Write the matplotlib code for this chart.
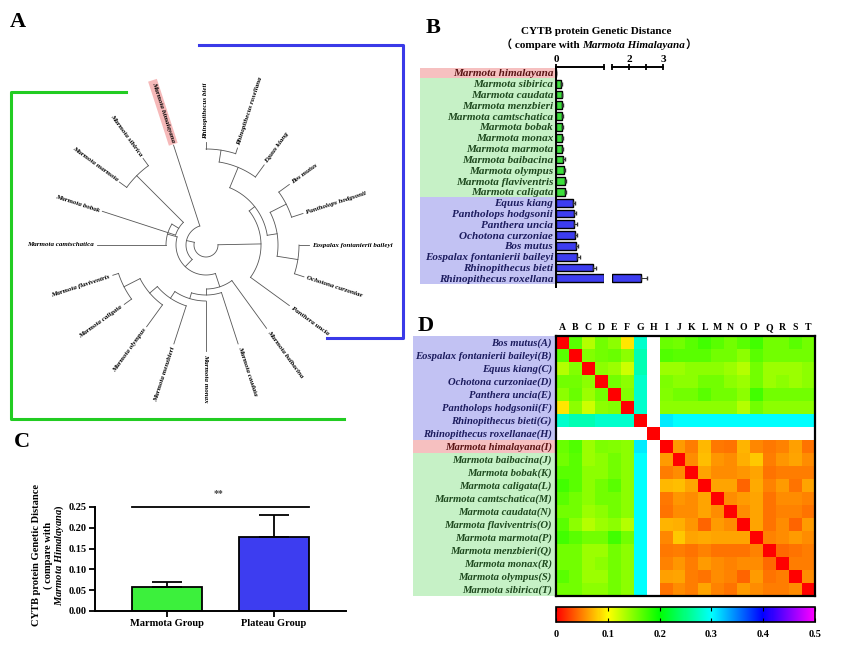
import numpy as np
import matplotlib
matplotlib.use('Agg')
import matplotlib.pyplot as plt
from matplotlib.colors import LinearSegmentedColormap
from matplotlib.patches import Rectangle

plt.rcParams['font.family'] = ['Liberation Serif', 'DejaVu Serif']
plt.rcParams['font.weight'] = 'bold'
plt.rcParams['mathtext.fontset'] = 'custom'
plt.rcParams['mathtext.it'] = 'Liberation Serif:italic:bold'
plt.rcParams['mathtext.rm'] = 'Liberation Serif:bold'

# ---------------- data ----------------
# A: tree, leaves in clockwise order starting at 12 o'clock
tree_leaves = ['Rhinopithecus bieti', 'Rhinopithecus roxellana', 'Equus kiang', 'Bos mutus',
               'Pantholops hodgsonii', 'Eospalax fontanierii baileyi', 'Ochotona curzoniae',
               'Panthera uncia', 'Marmota baibacina', 'Marmota caudata', 'Marmota monax',
               'Marmota menzbieri', 'Marmota olympus', 'Marmota caligata', 'Marmota flaviventris',
               'Marmota camtschatica', 'Marmota bobak', 'Marmota marmota', 'Marmota sibirica',
               'Marmota himalayana']
tree_tip = [103, 102, 99, 103, 102, 103, 103, 103, 103, 104, 106, 104, 101, 101, 98, 109, 109, 107, 107, 105]
clade_names = ['rr', 'rre', 'bp', 'eo', 'bpeo', 'pl1', 'plateau', 'sm', 'smb', 'fc', 'fco',
               'fcom', 'mon', 'cau', 'bai', 'eur', 'mar', 'marall', 'root']
clade_children = [
    ['Rhinopithecus bieti', 'Rhinopithecus roxellana'],
    ['rr', 'Equus kiang'],
    ['Bos mutus', 'Pantholops hodgsonii'],
    ['Eospalax fontanierii baileyi', 'Ochotona curzoniae'],
    ['bp', 'eo'],
    ['rre', 'bpeo'],
    ['pl1', 'Panthera uncia'],
    ['Marmota marmota', 'Marmota sibirica'],
    ['Marmota bobak', 'sm'],
    ['Marmota caligata', 'Marmota flaviventris'],
    ['Marmota olympus', 'fc'],
    ['Marmota menzbieri', 'fco'],
    ['Marmota monax', 'fcom'],
    ['Marmota caudata', 'mon'],
    ['Marmota baibacina', 'cau'],
    ['Marmota camtschatica', 'smb'],
    ['bai', 'eur'],
    ['mar', 'Marmota himalayana'],
    ['plateau', 'marall'],
]
clade_radius = [96, 84, 90, 93, 72, 62, 55, 98, 32, 92, 74, 64, 56, 50, 44, 40, 30, 20, 12]

# B: distance to M. himalayana
b_species = ['Marmota himalayana', 'Marmota sibirica', 'Marmota caudata', 'Marmota menzbieri',
             'Marmota camtschatica', 'Marmota bobak', 'Marmota monax', 'Marmota marmota',
             'Marmota baibacina', 'Marmota olympus', 'Marmota flaviventris', 'Marmota caligata',
             'Equus kiang', 'Pantholops hodgsonii', 'Panthera uncia', 'Ochotona curzoniae',
             'Bos mutus', 'Eospalax fontanierii baileyi', 'Rhinopithecus bieti',
             'Rhinopithecus roxellana']
b_dist = [0, 0.045, 0.046, 0.047, 0.048, 0.050, 0.051, 0.053, 0.062, 0.064, 0.072, 0.074,
          0.140, 0.147, 0.153, 0.158, 0.167, 0.178, 0.308, 2.35]
b_err = [0, 0.008, 0.008, 0.008, 0.008, 0.008, 0.008, 0.009, 0.010, 0.010, 0.010, 0.010,
         0.020, 0.020, 0.020, 0.020, 0.020, 0.020, 0.025, 0.17]
b_group = ['self'] + ['marmota'] * 11 + ['plateau'] * 8

# C: group means
c_groups = ['Marmota Group', 'Plateau Group']
c_means = [0.058, 0.178]
c_sd = [0.011, 0.052]

# D: pairwise distance matrix (lower triangle, rows B..T)
d_letters = list('ABCDEFGHIJKLMNOPQRST')
d_species = ['Bos mutus', 'Eospalax fontanierii baileyi', 'Equus kiang', 'Ochotona curzoniae',
             'Panthera uncia', 'Pantholops hodgsonii', 'Rhinopithecus bieti',
             'Rhinopithecus roxellanae', 'Marmota himalayana', 'Marmota baibacina',
             'Marmota bobak', 'Marmota caligata', 'Marmota camtschatica', 'Marmota caudata',
             'Marmota flaviventris', 'Marmota marmota', 'Marmota menzbieri', 'Marmota monax',
             'Marmota olympus', 'Marmota sibirica']
d_group = ['plateau'] * 8 + ['self'] + ['marmota'] * 11
d_lower = [
    [0.165],
    [0.13, 0.15],
    [0.155, 0.155, 0.145],
    [0.145, 0.16, 0.14, 0.155],
    [0.09, 0.145, 0.12, 0.145, 0.15],
    [0.28, 0.27, 0.27, 0.28, 0.28, 0.28],
    [2.33, 2.36, 2.31, 2.34, 2.32, 2.30, 2.29],
    [0.160, 0.168, 0.140, 0.152, 0.150, 0.145, 0.308, 2.35],
    [0.155, 0.165, 0.14, 0.145, 0.155, 0.145, 0.30, 2.35, 0.062],
    [0.165, 0.165, 0.145, 0.145, 0.155, 0.145, 0.30, 2.34, 0.050, 0.055],
    [0.175, 0.165, 0.145, 0.155, 0.165, 0.145, 0.30, 2.36, 0.074, 0.075, 0.065],
    [0.165, 0.155, 0.145, 0.155, 0.155, 0.145, 0.30, 2.35, 0.048, 0.060, 0.055, 0.065],
    [0.155, 0.155, 0.14, 0.145, 0.155, 0.145, 0.30, 2.35, 0.046, 0.055, 0.055, 0.065, 0.055],
    [0.165, 0.145, 0.13, 0.14, 0.145, 0.13, 0.30, 2.36, 0.072, 0.070, 0.060, 0.040, 0.062, 0.055],
    [0.175, 0.165, 0.155, 0.155, 0.175, 0.155, 0.30, 2.34, 0.053, 0.080, 0.065, 0.068, 0.065, 0.065, 0.065],
    [0.155, 0.155, 0.14, 0.14, 0.155, 0.145, 0.30, 2.35, 0.047, 0.050, 0.045, 0.052, 0.045, 0.045, 0.045, 0.052],
    [0.155, 0.155, 0.14, 0.145, 0.155, 0.145, 0.30, 2.35, 0.051, 0.060, 0.050, 0.062, 0.055, 0.052, 0.055, 0.055, 0.042],
    [0.165, 0.155, 0.14, 0.14, 0.155, 0.145, 0.30, 2.36, 0.064, 0.065, 0.050, 0.045, 0.055, 0.052, 0.040, 0.062, 0.045, 0.050],
    [0.155, 0.155, 0.145, 0.145, 0.155, 0.145, 0.30, 2.35, 0.045, 0.055, 0.050, 0.065, 0.052, 0.045, 0.062, 0.055, 0.050, 0.050, 0.055],
]

# ---------------- style ----------------
box_color = {'self': '#f6c0c0', 'marmota': '#c6f1c6', 'plateau': '#c2c2f3'}
text_color = {'self': '#5a1414', 'marmota': '#1f4a1f', 'plateau': '#1c1c5e'}
bar_color = {'self': '#3ce03c', 'marmota': '#3ce03c', 'plateau': '#3d3df0'}

W, H = 850, 657
fig = plt.figure(figsize=(W / 100, H / 100), dpi=100)


def px_axes(x0, y0, x1, y1):
    return fig.add_axes([x0 / W, 1 - y1 / H, (x1 - x0) / W, (y1 - y0) / H])


bg = px_axes(0, 0, W, H)
bg.set_xlim(0, W)
bg.set_ylim(H, 0)
bg.axis('off')
bg.set_zorder(-1)

# ---------------- A: circular tree ----------------
cx, cy = 206, 245
step = 360 / len(tree_leaves)
angle, radius = {}, {}
for k, name in enumerate(tree_leaves):
    angle[name] = 90 - step * k
    radius[name] = tree_tip[k]

tree_kw = dict(color='#555555', lw=0.6)
for name, kids, r in zip(clade_names, clade_children, clade_radius):
    angs = [angle[c] for c in kids]
    angle[name] = np.mean(angs)
    radius[name] = r
    t = np.radians(np.linspace(min(angs), max(angs), 60))
    bg.plot(cx + r * np.cos(t), cy - r * np.sin(t), **tree_kw)
    for c in kids:
        a = np.radians(angle[c])
        bg.plot([cx + r * np.cos(a), cx + radius[c] * np.cos(a)],
                [cy - r * np.sin(a), cy - radius[c] * np.sin(a)], **tree_kw)

for name in tree_leaves:
    a = (angle[name] + 180) % 360 - 180
    rr = radius[name] + 3
    x = cx + rr * np.cos(np.radians(a))
    y = cy - rr * np.sin(np.radians(a))
    if -90 <= a <= 90:
        rot, ha = a, 'left'
    else:
        rot, ha = (a - 180 if a > 0 else a + 180), 'right'
    kw = {}
    if name == 'Marmota himalayana':
        kw['bbox'] = dict(facecolor='#f6b9b9', edgecolor='none', pad=1.5)
    bg.text(x, y, name, rotation=rot, ha=ha, va='center', rotation_mode='anchor',
            fontsize=5, fontstyle='italic', **kw)

# group brackets
bg.plot([126, 11, 11, 344], [92, 92, 419, 419], color='#22cc22', lw=2.2)
bg.plot([199, 403, 403, 327], [45, 45, 338, 338], color='#3a3ae8', lw=2.2)

# ---------------- B: broken bar chart ----------------
rows = np.arange(len(b_species))
vals = np.array(b_dist)
errs = np.array(b_err)
cols = [bar_color[g] for g in b_group]
axb1 = px_axes(556, 67, 604, 287)
axb2 = px_axes(612, 67, 663, 287)
for ax in (axb1, axb2):
    ax.set_ylim(19.8, -0.55)
    ax.spines[['right', 'bottom']].set_visible(False)
    for s in ax.spines.values():
        s.set_linewidth(1.4)
    ax.xaxis.tick_top()
    ax.tick_params(axis='x', direction='inout', length=5, width=1.3, labelsize=8, pad=0)
axb2.spines['left'].set_visible(False)
axb2.set_yticks([])

axb1.barh(rows, np.minimum(vals, 0.4), height=0.72, color=cols, edgecolor='black', lw=1.0)
near = vals <= 0.4
axb1.errorbar(vals[near], rows[near], xerr=[np.zeros(near.sum()), errs[near]], fmt='none',
              ecolor='#333333', elinewidth=0.7, capsize=1.5)
far = vals > 1.5
axb2.barh(rows[far], vals[far] - 1.5, left=1.5, height=0.72,
          color=[c for c, f in zip(cols, far) if f], edgecolor='black', lw=1.0)
axb2.errorbar(vals[far], rows[far], xerr=[np.zeros(far.sum()), errs[far]], fmt='none',
              ecolor='#333333', elinewidth=0.7, capsize=1.5)
axb1.set_xlim(0, 0.4)
axb2.set_xlim(1.5, 3)
axb1.set_xticks([0, 0.4])
axb1.set_xticklabels(['0', ''])
axb2.set_xticks([1.5, 2, 2.5, 3])
axb2.set_xticklabels(['', '2', '', '3'])

axb1.set_yticks(rows)
axb1.set_yticklabels(b_species, fontstyle='italic', fontsize=8)
for lab, g in zip(axb1.get_yticklabels(), b_group):
    lab.set_color(text_color[g])
axb1.tick_params(axis='y', length=0, pad=2)

lab_w = (556 - 420) / (604 - 556) * 0.4
for g in ['self', 'marmota', 'plateau']:
    idx = [i for i, gg in enumerate(b_group) if gg == g]
    axb1.add_patch(Rectangle((-lab_w, min(idx) - 0.5), lab_w, len(idx), facecolor=box_color[g],
                             edgecolor='none', clip_on=False, zorder=0))

fig.text(596 / W, 1 - 31 / H, 'CYTB protein Genetic Distance', ha='center', va='center', fontsize=8)
t1 = bg.text(501, 50, '（ compare with ', fontsize=8, va='bottom',
             family=['Liberation Serif', 'Noto Sans CJK SC'])
t2 = bg.annotate('Marmota Himalayana', xy=(1, 0), xycoords=t1, va='bottom', fontsize=8,
                 fontstyle='italic')
bg.annotate('）', xy=(1, 0), xycoords=t2, va='bottom', fontsize=8,
            family=['Liberation Serif', 'Noto Sans CJK SC'])

# ---------------- C: group bars ----------------
axc = px_axes(95, 507, 346, 611)
axc.bar([0, 1], c_means, width=0.66, color=['#3cf03c', '#3d3df0'], edgecolor='black', lw=1.3)
axc.errorbar([0, 1], c_means, yerr=[[0, 0], c_sd], fmt='none', ecolor='black', elinewidth=1.3,
             capsize=11, capthick=1.3)
axc.set_xlim(-0.68, 1.68)
axc.set_ylim(0, 0.25)
axc.set_yticks(np.arange(0, 0.251, 0.05))
axc.set_yticklabels(['%.2f' % v for v in np.arange(0, 0.251, 0.05)])
axc.set_xticks([0, 1])
axc.set_xticklabels(c_groups)
axc.spines[['top', 'right']].set_visible(False)
for s in axc.spines.values():
    s.set_linewidth(1.4)
axc.tick_params(labelsize=7.5, width=1.3, length=4, pad=2)
axc.plot([-0.33, 1.33], [0.25, 0.25], color='black', lw=1.3, clip_on=False)
axc.text(0.48, 0.272, '**', ha='center', va='bottom', fontsize=7, color='#444444')
ylab_lines = ['CYTB protein Genetic Distance', '( compare with', r'$\mathit{Marmota\ Himalayana}$)']
for x, line in zip([37, 48.5, 59.5], ylab_lines):
    fig.text(x / W, 1 - 555 / H, line, rotation=90, ha='center', va='center', fontsize=7.6)

# ---------------- D: heatmap ----------------
n = len(d_letters)
dist = np.zeros((n, n))
for i, row in enumerate(d_lower, start=1):
    dist[i, :i] = row
dist = dist + dist.T

cmap = LinearSegmentedColormap.from_list('dist', ['#ff0000', '#ffff00', '#00ff00', '#00ffff',
                                                  '#0000ff', '#ff00ff'])
cmap.set_over('white')
axd = px_axes(556, 336, 815, 596)
im = axd.imshow(dist, cmap=cmap, vmin=0, vmax=0.5, aspect='auto', interpolation='nearest')
axd.set_xticks(range(n))
axd.set_xticklabels(d_letters, fontsize=7)
axd.xaxis.tick_top()
axd.set_yticks(range(n))
axd.set_yticklabels([f'{s}({l})' for s, l in zip(d_species, d_letters)], fontstyle='italic',
                    fontsize=7.7)
for lab, g in zip(axd.get_yticklabels(), d_group):
    lab.set_color(text_color[g])
axd.tick_params(length=0, pad=3)
for s in axd.spines.values():
    s.set_linewidth(1.6)

cell_px = (815 - 556) / n
box_w = (556 - 413) / cell_px
for g in ['plateau', 'self', 'marmota']:
    idx = [i for i, gg in enumerate(d_group) if gg == g]
    axd.add_patch(Rectangle((-0.5 - box_w, min(idx) - 0.5), box_w, len(idx),
                            facecolor=box_color[g], edgecolor='none', clip_on=False, zorder=0))

cax = px_axes(556, 607, 815, 622)
cb = fig.colorbar(im, cax=cax, orientation='horizontal', ticks=np.arange(0, 0.51, 0.1))
cb.ax.set_xticklabels(['0', '0.1', '0.2', '0.3', '0.4', '0.5'])
cb.outline.set_linewidth(1.2)
cax.tick_params(labelsize=7.5, direction='in', length=3, pad=6, top=True)

# panel letters
for letter, (x, y) in {'A': (18, 22), 'B': (433, 28), 'C': (22, 442), 'D': (426, 326)}.items():
    fig.text(x / W, 1 - y / H, letter, fontsize=16, ha='center', va='center')

fig.savefig('out.png', dpi=100)
